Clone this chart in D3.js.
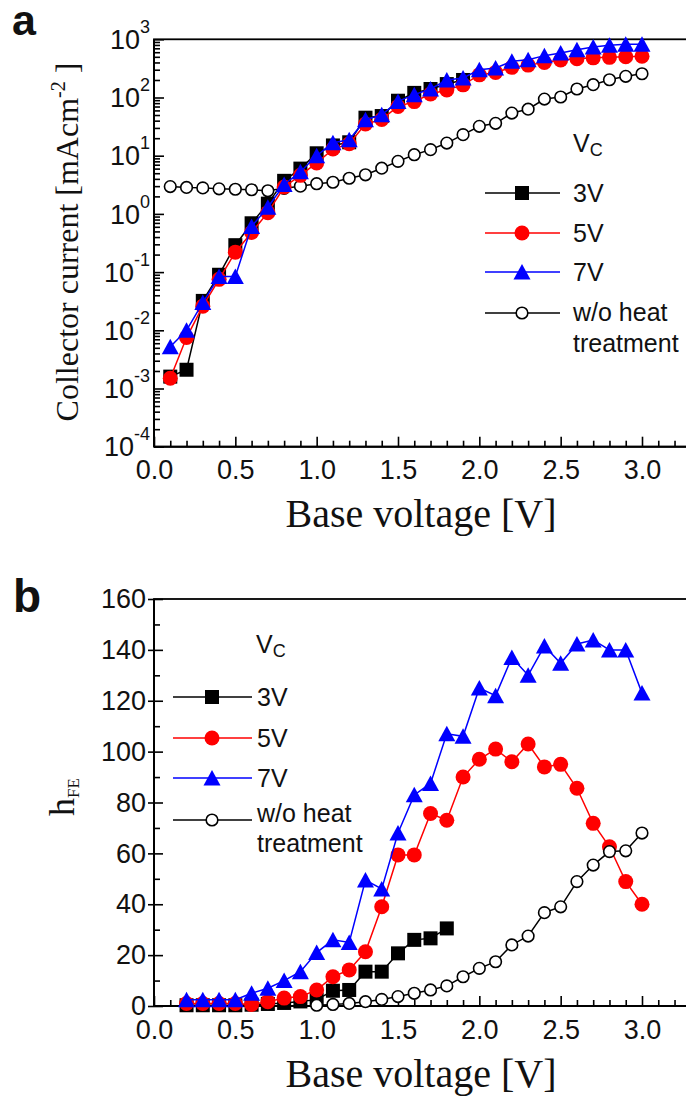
<!DOCTYPE html>
<html><head><meta charset="utf-8">
<script src="https://cdn.jsdelivr.net/npm/d3@7"></script>
<style>html,body{margin:0;padding:0;background:#fff}svg{display:block}</style>
</head><body>
<svg id="c" width="686" height="1097"></svg>
<script>
// ---------- DATA ----------
// Panel a: collector current [mA cm^-2] vs base voltage [V]
const voltageA = [0.1,0.2,0.3,0.4,0.5,0.6,0.7,0.8,0.9,1.0,1.1,1.2,1.3,1.4,1.5,1.6,1.7,1.8,1.9,2.0,2.1,2.2,2.3,2.4,2.5,2.6,2.7,2.8,2.9,3.0];
const voltageA3V = [0.1,0.2,0.3,0.4,0.5,0.6,0.7,0.8,0.9,1.0,1.1,1.2,1.3,1.4,1.5,1.6,1.7,1.8,1.9];
const ic3V = [1.6e-3,2.1e-3,0.032,0.09,0.29,0.69,1.5,3.7,6.0,11,15,17,45,48,88,120,140,170,200];
const ic5V = [1.5e-3,7.5e-3,0.026,0.075,0.22,0.48,1.05,2.9,4.6,7.5,13,16,35,42,70,85,115,135,165,245,270,330,360,400,440,465,480,490,500,510];
const ic7V = [5.2e-3,0.010,0.030,0.084,0.084,0.61,1.3,3.2,5.3,10,16.7,18.8,41.5,50.6,85.7,112,140,200,216,300,321,418,446,524,582,660,740,790,820,820];
const icNoHeat = [2.95,2.85,2.8,2.7,2.65,2.6,2.5,2.75,3.0,3.3,3.5,4.1,4.7,6.1,8.0,10.4,12.7,16.5,23,32,36,54,63,94,102,140,166,202,231,256];

// Panel b: hFE vs base voltage [V]
const voltageB = [0.2,0.3,0.4,0.5,0.6,0.7,0.8,0.9,1.0,1.1,1.2,1.3,1.4,1.5,1.6,1.7,1.8,1.9,2.0,2.1,2.2,2.3,2.4,2.5,2.6,2.7,2.8,2.9,3.0];
const voltageB3V = [0.2,0.3,0.4,0.5,0.6,0.7,0.8,0.9,1.0,1.1,1.2,1.3,1.4,1.5,1.6,1.7,1.8];
const voltageBNoHeat = [1.0,1.1,1.2,1.3,1.4,1.5,1.6,1.7,1.8,1.9,2.0,2.1,2.2,2.3,2.4,2.5,2.6,2.7,2.8,2.9,3.0];
const hfe3V = [0.3,0.3,0.3,0.3,0.5,0.8,1.2,1.8,2.5,6.0,6.3,13.5,13.5,20.7,26,26.6,30.5];
const hfe5V = [1.0,1.0,1.0,1.0,0.6,1.7,3.1,3.7,6.3,11.5,14.2,21.3,39,59.4,59.4,75.7,73,90,97,101,96,103,94,95,85.6,71.8,62.6,48.9,40];
const hfe7V = [2.5,2.5,2.5,2.5,5,7,10,13.5,21,26,25,49.5,46,68,83,87.5,107,106,125,122,137,130,141.5,134.7,142.3,143.9,140,140,123];
const hfeNoHeat = [0.3,0.6,1.0,1.7,2.6,3.7,5.0,6.3,7.9,11.5,14.8,17.4,24,27.5,36.7,39,48.9,55.4,60.7,61,68];

// Axis ticks / labels
const xMajorTicks = [0,0.5,1.0,1.5,2.0,2.5,3.0];
const xMinorTicks = [0.1,0.2,0.3,0.4,0.6,0.7,0.8,0.9,1.1,1.2,1.3,1.4,1.6,1.7,1.8,1.9,2.1,2.2,2.3,2.4,2.6,2.7,2.8,2.9,3.1,3.2];
const yALogExponents = [-4,-3,-2,-1,0,1,2,3];
const yBMajorTicks = [0,20,40,60,80,100,120,140,160];
const yBMinorTicks = [10,30,50,70,90,110,130,150];
const seriesNames = ["3V","5V","7V","w/o heat","treatment"];
const legendTitle = ["V","C"];

// ---------- LAYOUT ----------
const FS = "'Liberation Sans', Arial, Helvetica, sans-serif";
const FSERIF = "'Liberation Serif', 'Times New Roman', Times, serif";
const TXT = "#111";
const svg = d3.select('#c');

const xA = d3.scaleLinear().domain([0,3.3]).range([154,690.8]);
const yA = d3.scaleLog().domain([1e-4,1e3]).range([446.7,39.3]);
const xB = d3.scaleLinear().domain([0,3.3]).range([154,690.8]);
const yB = d3.scaleLinear().domain([0,160]).range([1006,599]);

function styleAxis(g, fsize){
  g.select('.domain').remove();
  g.selectAll('line').attr('stroke','#000').attr('stroke-width',1.6);
  g.selectAll('text').attr('font-family',FS).attr('font-size',fsize).attr('fill',TXT);
}

// markers
function marker(g, type, x, y){
  if(type==='square'){
    g.append('rect').attr('x',x-7).attr('y',y-7).attr('width',14).attr('height',14).attr('fill','#000');
  } else if(type==='circle'){
    g.append('circle').attr('cx',x).attr('cy',y).attr('r',7.5).attr('fill','#ff0000');
  } else if(type==='triangle'){
    g.append('path').attr('d',`M${x},${y-8}L${x+8.5},${y+7.5}L${x-8.5},${y+7.5}Z`).attr('fill','#0000ff');
  } else {
    g.append('circle').attr('cx',x).attr('cy',y).attr('r',5.8).attr('fill','#fff').attr('stroke','#000').attr('stroke-width',1.6);
  }
}
function drawSeries(g, xs, ys, xs_, ys_, color, type){
  const pts = xs.map((v,i)=>[xs_(v), ys_(ys[i])]);
  g.append('path').attr('d', d3.line()(pts)).attr('fill','none').attr('stroke',color).attr('stroke-width',1.5);
  const mg = g.append('g');
  pts.forEach(p=>marker(mg,type,p[0],p[1]));
}

// ---------- PANEL A ----------
const gA = svg.append('g');
gA.append('rect').attr('x',154).attr('y',39.3).attr('width',690.8-154).attr('height',446.7-39.3)
  .attr('fill','none').attr('stroke','#000').attr('stroke-width',1.8);

gA.append('g').attr('transform','translate(0,446.7)')
  .call(d3.axisBottom(xA).tickValues(xMajorTicks).tickSizeInner(-10).tickSizeOuter(0).tickPadding(13).tickFormat(d3.format('.1f')))
  .call(g=>styleAxis(g,27));
gA.append('g').attr('transform','translate(0,446.7)')
  .call(d3.axisBottom(xA).tickValues(xMinorTicks).tickSizeInner(-6).tickSizeOuter(0).tickFormat(''))
  .call(g=>styleAxis(g,27));

const yAMajor = yALogExponents.map(e=>Math.pow(10,e));
const yAMinor = [];
yALogExponents.slice(0,-1).forEach(e=>{ for(let m=2;m<=9;m++) yAMinor.push(m*Math.pow(10,e)); });
gA.append('g').attr('transform','translate(154,0)')
  .call(d3.axisLeft(yA).tickValues(yAMajor).tickSizeInner(-10).tickSizeOuter(0).tickFormat(''))
  .call(g=>styleAxis(g,27));
gA.append('g').attr('transform','translate(154,0)')
  .call(d3.axisLeft(yA).tickValues(yAMinor).tickSizeInner(-6).tickSizeOuter(0).tickFormat(''))
  .call(g=>styleAxis(g,27));
yALogExponents.forEach(e=>{
  const t = gA.append('text').attr('x',150).attr('y',yA(Math.pow(10,e))+9.7)
    .attr('text-anchor','end').attr('font-family',FS).attr('fill',TXT);
  t.append('tspan').attr('font-size',27).text('10');
  t.append('tspan').attr('font-size',18).attr('dy',-16).text(String(e));
});

// axis lines
gA.append('line').attr('x1',154).attr('x2',154).attr('y1',39.3).attr('y2',446.7).attr('stroke','#000').attr('stroke-width',2);
gA.append('line').attr('x1',154).attr('x2',690.8).attr('y1',446.7).attr('y2',446.7).attr('stroke','#000').attr('stroke-width',2);

// labels
gA.append('text').attr('x',421).attr('y',527).attr('text-anchor','middle').attr('font-family',FSERIF)
  .attr('font-size',40).attr('fill',TXT).text('Base voltage [V]');
const ylA = gA.append('text').attr('transform','translate(78,242) rotate(-90)').attr('text-anchor','middle')
  .attr('font-family',FSERIF).attr('font-size',32).attr('fill',TXT);
ylA.append('tspan').text('Collector current [mAcm');
ylA.append('tspan').attr('font-size',20).attr('dy',-13).text('-2');
ylA.append('tspan').attr('dy',13).text(' ]');
svg.append('text').attr('x',12).attr('y',35).attr('font-family',FS).attr('font-weight','bold')
  .attr('font-size',43).attr('fill',TXT).text('a');

// series
drawSeries(gA, voltageA, icNoHeat, xA, yA, '#000', 'open');
drawSeries(gA, voltageA3V, ic3V, xA, yA, '#000', 'square');
drawSeries(gA, voltageA, ic5V, xA, yA, '#ff0000', 'circle');
drawSeries(gA, voltageA, ic7V, xA, yA, '#0000ff', 'triangle');

// legend
function legend(g, x0, x1, xm, xt, rows, textRows, titleX, titleY, fs){
  const tt = g.append('text').attr('x',titleX).attr('y',titleY).attr('font-family',FS).attr('fill',TXT);
  tt.append('tspan').attr('font-size',fs).text(legendTitle[0]);
  tt.append('tspan').attr('font-size',fs-7).attr('dy',4).text(legendTitle[1]);
  const specs = [['#000','square'],['#ff0000','circle'],['#0000ff','triangle'],['#000','open']];
  specs.forEach((s,i)=>{
    const y = rows[i];
    g.append('line').attr('x1',x0).attr('x2',x1).attr('y1',y).attr('y2',y).attr('stroke',s[0]).attr('stroke-width',1.6);
    marker(g, s[1], xm, y);
  });
  seriesNames.forEach((n,i)=>{
    g.append('text').attr('x',xt).attr('y',textRows[i]+9).attr('font-family',FS).attr('font-size',fs).attr('fill',TXT).text(n);
  });
}
legend(gA, 485, 560, 522, 573, [193,233,272,313], [193,233,272,312,343], 573, 152, 25);

// ---------- PANEL B ----------
const gB = svg.append('g');
gB.append('rect').attr('x',154).attr('y',599).attr('width',690.8-154).attr('height',1006-599)
  .attr('fill','none').attr('stroke','#000').attr('stroke-width',1.8);
gB.append('g').attr('transform','translate(0,1006)')
  .call(d3.axisBottom(xB).tickValues(xMajorTicks).tickSizeInner(-10).tickSizeOuter(0).tickPadding(14).tickFormat(d3.format('.1f')))
  .call(g=>styleAxis(g,27));
gB.append('g').attr('transform','translate(0,1006)')
  .call(d3.axisBottom(xB).tickValues(xMinorTicks).tickSizeInner(-6).tickSizeOuter(0).tickFormat(''))
  .call(g=>styleAxis(g,27));
gB.append('g').attr('transform','translate(154,0)')
  .call(d3.axisLeft(yB).tickValues(yBMajorTicks).tickSizeInner(-9).tickSizeOuter(0).tickPadding(8).tickFormat(d3.format('d')))
  .call(g=>styleAxis(g,27));
gB.append('g').attr('transform','translate(154,0)')
  .call(d3.axisLeft(yB).tickValues(yBMajorTicks).tickSizeInner(6).tickSizeOuter(0).tickFormat(''))
  .call(g=>styleAxis(g,27));
gB.append('g').attr('transform','translate(154,0)')
  .call(d3.axisLeft(yB).tickValues(yBMinorTicks).tickSizeInner(-6).tickSizeOuter(0).tickFormat(''))
  .call(g=>styleAxis(g,27));
gB.append('line').attr('x1',154).attr('x2',154).attr('y1',599).attr('y2',1006).attr('stroke','#000').attr('stroke-width',2);
gB.append('line').attr('x1',154).attr('x2',690.8).attr('y1',1006).attr('y2',1006).attr('stroke','#000').attr('stroke-width',2);

gB.append('text').attr('x',421).attr('y',1087).attr('text-anchor','middle').attr('font-family',FSERIF)
  .attr('font-size',40).attr('fill',TXT).text('Base voltage [V]');
const ylB = gB.append('text').attr('transform','translate(74,797) rotate(-90)').attr('text-anchor','middle')
  .attr('font-family',FSERIF).attr('font-size',36).attr('fill',TXT);
ylB.append('tspan').text('h');
ylB.append('tspan').attr('font-size',17).attr('dy',5).text('FE');
svg.append('text').attr('x',13).attr('y',612).attr('font-family',FS).attr('font-weight','bold')
  .attr('font-size',46).attr('fill',TXT).text('b');

drawSeries(gB, voltageB3V, hfe3V, xB, yB, '#000', 'square');
drawSeries(gB, voltageB, hfe5V, xB, yB, '#ff0000', 'circle');
drawSeries(gB, voltageB, hfe7V, xB, yB, '#0000ff', 'triangle');
drawSeries(gB, voltageBNoHeat, hfeNoHeat, xB, yB, '#000', 'open');

legend(gB, 173, 252, 212, 257, [697,738,778,820], [697,738,778,813,843], 256, 653, 25);
</script>
</body></html>
